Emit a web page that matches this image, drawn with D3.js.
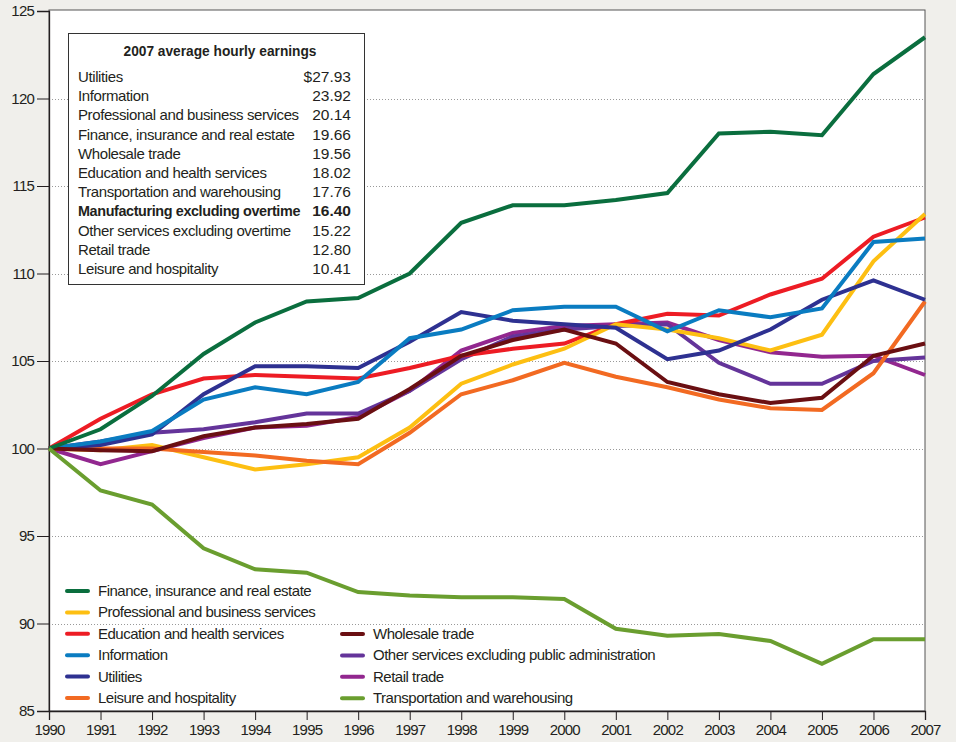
<!DOCTYPE html>
<html>
<head>
<meta charset="utf-8">
<script src="https://cdn.jsdelivr.net/npm/d3@7"></script>
<style>
  html, body { margin: 0; padding: 0; background: #f0efeb; }
  svg { display: block; }
  text { font-family: "Liberation Sans", Arial, sans-serif; fill: #231f20; }
</style>
</head>
<body>
<svg id="chart" width="956" height="742"></svg>
<script>
// Data (index, 1990 = 100)
var years = d3.range(1990, 2008);

var finance        = [100, 101.1, 103.0, 105.4, 107.2, 108.4, 108.6, 110.0, 112.9, 113.9, 113.9, 114.2, 114.6, 118.0, 118.1, 117.9, 121.4, 123.5];
var professional   = [100, 99.9, 100.2, 99.5, 98.8, 99.1, 99.5, 101.2, 103.7, 104.8, 105.7, 107.1, 106.8, 106.3, 105.6, 106.5, 110.7, 113.4];
var education      = [100, 101.7, 103.1, 104.0, 104.2, 104.1, 104.0, 104.6, 105.3, 105.7, 106.0, 107.1, 107.7, 107.6, 108.8, 109.7, 112.1, 113.2];
var information    = [100, 100.4, 101.0, 102.8, 103.5, 103.1, 103.8, 106.3, 106.8, 107.9, 108.1, 108.1, 106.7, 107.9, 107.5, 108.0, 111.8, 112.0];
var utilities      = [100, 100.2, 100.8, 103.1, 104.7, 104.7, 104.6, 106.1, 107.8, 107.3, 107.1, 106.9, 105.1, 105.6, 106.8, 108.5, 109.6, 108.5];
var leisure        = [100, 100.0, 100.0, 99.8, 99.6, 99.3, 99.1, 100.9, 103.1, 103.9, 104.9, 104.1, 103.5, 102.8, 102.3, 102.2, 104.3, 108.4];
var wholesale      = [100, 99.9, 99.85, 100.7, 101.2, 101.4, 101.7, 103.4, 105.3, 106.2, 106.8, 106.0, 103.8, 103.1, 102.6, 102.9, 105.3, 106.0];
var otherServices  = [100, 100.4, 100.9, 101.1, 101.5, 102.0, 102.0, 103.3, 105.1, 106.4, 106.8, 107.0, 107.1, 104.9, 103.7, 103.7, 105.0, 105.2];
var retail         = [100, 99.1, 99.85, 100.6, 101.2, 101.3, 101.8, 103.3, 105.6, 106.6, 107.0, 107.1, 107.2, 106.2, 105.5, 105.25, 105.3, 104.2];
var transportation = [100, 97.6, 96.8, 94.3, 93.1, 92.9, 91.8, 91.6, 91.5, 91.5, 91.4, 89.7, 89.3, 89.4, 89.0, 87.7, 89.1, 89.1];

var yTicks = [85, 90, 95, 100, 105, 110, 115, 120, 125];

// Earnings table
var earnLabels = ["Utilities", "Information", "Professional and business services", "Finance, insurance and real estate",
  "Wholesale trade", "Education and health services", "Transportation and warehousing",
  "Manufacturing excluding overtime", "Other services excluding overtime", "Retail trade", "Leisure and hospitality"];
var earnValues = ["$27.93", "23.92", "20.14", "19.66", "19.56", "18.02", "17.76", "16.40", "15.22", "12.80", "10.41"];

// Series (drawing order, bottom to top)
var series = [
  { name: "Retail trade", values: retail, color: "#92278f" },
  { name: "Other services excluding public administration", values: otherServices, color: "#64349a" },
  { name: "Education and health services", values: education, color: "#ed1c24" },
  { name: "Professional and business services", values: professional, color: "#fdbf12" },
  { name: "Leisure and hospitality", values: leisure, color: "#f26a22" },
  { name: "Utilities", values: utilities, color: "#2e3191" },
  { name: "Information", values: information, color: "#0a7cc1" },
  { name: "Wholesale trade", values: wholesale, color: "#6a0f12" },
  { name: "Finance, insurance and real estate", values: finance, color: "#0a6e3e" },
  { name: "Transportation and warehousing", values: transportation, color: "#6a9e2f" }
];

var legendLeft = ["Finance, insurance and real estate", "Professional and business services", "Education and health services",
  "Information", "Utilities", "Leisure and hospitality"];
var legendRight = ["Wholesale trade", "Other services excluding public administration", "Retail trade", "Transportation and warehousing"];

var svg = d3.select("#chart");
var mLeft = 49, mRight = 925, mTop = 11, mBottom = 711;

var x = d3.scaleLinear().domain([1990, 2007]).range([mLeft, mRight]);
var y = d3.scaleLinear().domain([85, 125]).range([mBottom, mTop]);

// Plot background
svg.append("rect")
  .attr("x", mLeft).attr("y", mTop - 1)
  .attr("width", mRight - mLeft).attr("height", mBottom - mTop + 1)
  .attr("fill", "#fff")
  .attr("stroke", "#555").attr("stroke-width", 1);

// Gridlines
svg.append("g").selectAll("line")
  .data(yTicks.filter(function(d) { return d > 85 && d < 125; }))
  .enter().append("line")
  .attr("x1", mLeft).attr("x2", mRight)
  .attr("y1", function(d) { return Math.round(y(d)) + 0.5; })
  .attr("y2", function(d) { return Math.round(y(d)) + 0.5; })
  .attr("stroke", "#999").attr("stroke-width", 1)
  .attr("stroke-dasharray", "1,2");

// Axes
var yAxis = svg.append("g")
  .attr("transform", "translate(" + mLeft + ",0)")
  .call(d3.axisLeft(y).tickValues(yTicks).tickSize(12).tickPadding(3));
var xAxis = svg.append("g")
  .attr("transform", "translate(0," + mBottom + ")")
  .call(d3.axisBottom(x).tickValues(years).tickFormat(d3.format("d")).tickSize(9).tickPadding(4));

[yAxis, xAxis].forEach(function(a) {
  a.select(".domain").attr("stroke", "#231f20").attr("stroke-width", 1.3);
  a.selectAll(".tick line").attr("stroke", "#231f20");
  a.selectAll(".tick text").attr("font-size", 15).attr("fill", "#231f20")
    .attr("letter-spacing", -0.8)
    .style("font-family", "\"Liberation Sans\", Arial, sans-serif");
});

// Lines
var line = d3.line()
  .x(function(d, i) { return x(years[i]); })
  .y(function(d) { return y(d); });

svg.append("g").selectAll("path")
  .data(series)
  .enter().append("path")
  .attr("d", function(d) { return line(d.values); })
  .attr("fill", "none")
  .attr("stroke", function(d) { return d.color; })
  .attr("stroke-width", 4)
  .attr("stroke-linejoin", "miter");

// Earnings table
var tbl = svg.append("g");
tbl.append("rect")
  .attr("x", 68.5).attr("y", 33.5).attr("width", 296).attr("height", 251)
  .attr("fill", "#fff").attr("stroke", "#333").attr("stroke-width", 1);
tbl.append("text")
  .attr("x", 220).attr("y", 56)
  .attr("text-anchor", "middle").attr("font-size", 15).attr("font-weight", "bold")
  .attr("textLength", 193).attr("lengthAdjust", "spacingAndGlyphs")
  .text("2007 average hourly earnings");
earnLabels.forEach(function(lbl, i) {
  var bold = lbl.indexOf("Manufacturing") === 0;
  var t = tbl.append("text")
    .attr("x", 78).attr("y", 82 + i * 19.2)
    .attr("font-size", 15).attr("font-weight", bold ? "bold" : "normal")
    .attr("letter-spacing", -0.4)
    .text(lbl);
  if (bold) t.attr("textLength", 222).attr("lengthAdjust", "spacingAndGlyphs");
  tbl.append("text")
    .attr("x", 351).attr("y", 82 + i * 19.2)
    .attr("text-anchor", "end")
    .attr("font-size", 15.5).attr("font-weight", bold ? "bold" : "normal")
    .text(earnValues[i]);
});

// Legend
var colorOf = {};
series.forEach(function(s) { colorOf[s.name] = s.color; });

function legendItem(name, lx, ly) {
  svg.append("line")
    .attr("x1", lx).attr("x2", lx + 21).attr("y1", ly).attr("y2", ly)
    .attr("stroke", colorOf[name]).attr("stroke-width", 4).attr("stroke-linecap", "round");
  svg.append("text")
    .attr("x", lx + 31).attr("y", ly + 5)
    .attr("font-size", 15).attr("letter-spacing", -0.5)
    .text(name);
}
legendLeft.forEach(function(n, i) { legendItem(n, 67, 591 + i * 21.4); });
legendRight.forEach(function(n, i) { legendItem(n, 342, 634 + i * 21.4); });
</script>
</body>
</html>
